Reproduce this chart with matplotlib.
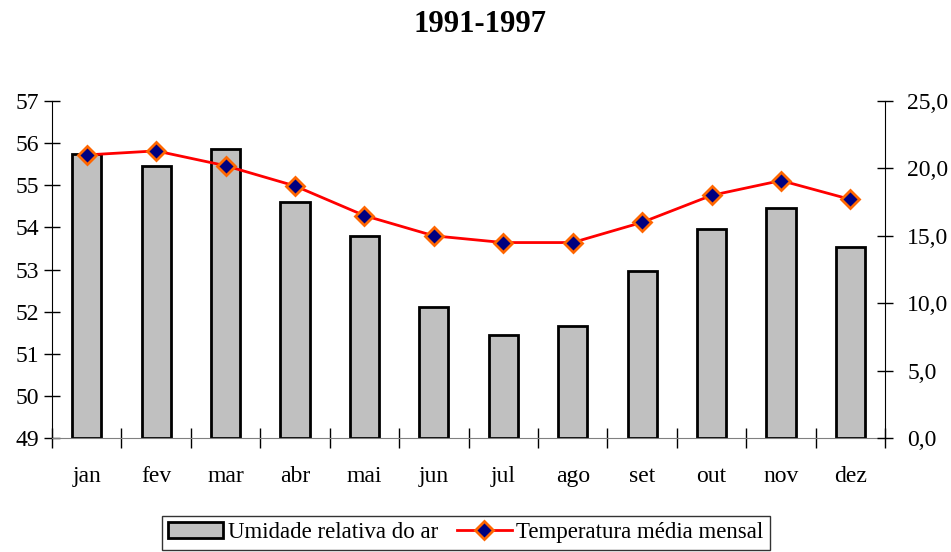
import matplotlib.pyplot as plt
import numpy as np

plt.rcParams['font.family'] = ['Liberation Serif', 'DejaVu Serif']

meses = ['jan', 'fev', 'mar', 'abr', 'mai', 'jun', 'jul', 'ago', 'set', 'out', 'nov', 'dez']
umidade = [55.75, 55.45, 55.85, 54.6, 53.8, 52.1, 51.45, 51.65, 52.97, 53.97, 54.47, 53.53]
temperatura = [21.0, 21.3, 20.2, 18.7, 16.5, 15.0, 14.5, 14.5, 16.0, 18.0, 19.1, 17.7]

fig = plt.figure(figsize=(9.51, 5.52), dpi=100)
ax = fig.add_axes([0.0547, 0.2065, 0.876, 0.6105])
x = np.arange(len(meses))

barras = ax.bar(x, [u - 49 for u in umidade], bottom=49, width=0.42,
                color='#C0C0C0', edgecolor='black', linewidth=2,
                label='Umidade relativa do ar')
ax.set_ylim(49, 57)
ax.set_xlim(-0.5, 11.5)
ax.set_yticks(range(49, 58))
ax.set_xticks(x)
ax.set_xticklabels(meses)
ax.set_xticks(np.arange(-0.5, 12, 1), minor=True)
ax.tick_params(axis='x', which='major', length=0, pad=20, labelsize=17)
ax.tick_params(axis='x', which='minor', direction='inout', length=14, width=1)
ax.tick_params(axis='y', direction='inout', length=12, width=1, labelsize=17, pad=3)
ax.spines['top'].set_visible(False)
ax.spines['right'].set_visible(False)
ax.spines['bottom'].set_color('#808080')

ax2 = ax.twinx()
linha, = ax2.plot(x, temperatura, color='red', linewidth=2, marker='D',
                  markersize=9, markerfacecolor='#000080', markeredgecolor='#FF6600',
                  markeredgewidth=2, label='Temperatura média mensal')
ax2.set_ylim(0, 25)
ax2.set_yticks(np.arange(0, 26, 5))
ax2.set_yticklabels([f'{v:.1f}'.replace('.', ',') for v in np.arange(0, 26, 5)])
ax2.tick_params(axis='y', direction='inout', length=12, width=1, labelsize=17, pad=10)
for s in ['top', 'left', 'bottom']:
    ax2.spines[s].set_visible(False)

fig.text(0.505, 0.956, '1991-1997', ha='center', va='center', fontsize=22, fontweight='bold')

leg = fig.legend(handles=[barras, linha], loc='upper center', bbox_to_anchor=(0.49, 0.066),
                 ncol=2, fontsize=16.5, frameon=True, fancybox=False, edgecolor='black',
                 handlelength=2.4, handletextpad=0.2, columnspacing=0.8, borderpad=0.3,
                 borderaxespad=0)
leg.get_frame().set_linewidth(1)

fig.savefig('out.png', dpi=100)
